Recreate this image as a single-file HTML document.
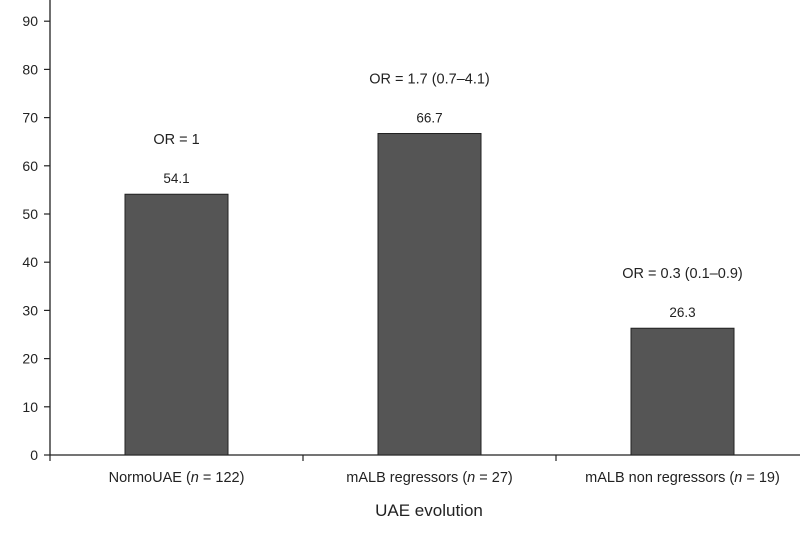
<!DOCTYPE html>
<html><head><meta charset="utf-8"><style>
body{margin:0;background:#fff;}
svg text{font-family:"Liberation Sans",sans-serif;fill:#222;}
</style></head><body>
<svg id="chart" width="800" height="533" viewBox="0 0 800 533" xmlns="http://www.w3.org/2000/svg"></svg>
<script>
const categories = ["NormoUAE", "mALB regressors", "mALB non regressors"];
const nLabels = ["122", "27", "19"];
const values = [54.1, 66.7, 26.3];
const orLabels = ["OR = 1", "OR = 1.7 (0.7\u20134.1)", "OR = 0.3 (0.1\u20130.9)"];
const yTicks = [0,10,20,30,40,50,60,70,80,90];

const svg = document.getElementById('chart');
const NS = 'http://www.w3.org/2000/svg';
const x0 = 50, catW = 253, y0 = 455, pxPer = 4.82, barW = 103;
const y = v => y0 - v * pxPer;
const cx = i => x0 + catW * i + catW / 2;
function mk(tag, attrs, txt){const e=document.createElementNS(NS,tag);for(const k in attrs)e.setAttribute(k,attrs[k]);if(txt!==undefined)e.textContent=txt;svg.appendChild(e);return e;}

const yAxis = mk('line',{x1:x0,y1:0,x2:x0,y2:y0,stroke:'#222','stroke-width':1.3});


const xAxis = mk('line',{x1:x0,y1:y0,x2:800,y2:y0,stroke:'#222','stroke-width':1.3});



yTicks.forEach(t=>{
  const tk = mk('line',{x1:x0-6,y1:y(t),x2:x0,y2:y(t),stroke:'#222','stroke-width':1.2});
  
  
  const lb = mk('text',{x:x0-12,y:y(t)+5,'text-anchor':'end','font-size':14},String(t));
  
  
});
for(let i=0;i<=categories.length;i++){
  const tk = mk('line',{x1:x0+catW*i,y1:y0,x2:x0+catW*i,y2:y0+6,stroke:'#222','stroke-width':1.2});
  
  
}
categories.forEach((c,i)=>{
  const v = values[i];
  const b = mk('rect',{x:cx(i)-barW/2,y:y(v),width:barW,height:y0-y(v),fill:'#555',stroke:'#222','stroke-width':1});
  
  
  const vl = mk('text',{x:cx(i),y:y(v)-11,'text-anchor':'middle','font-size':13.5},v.toFixed(1));
  
  
  const ol = mk('text',{x:cx(i),y:y(v)-50,'text-anchor':'middle','font-size':14.5},orLabels[i]);
  
  
  const cl = mk('text',{x:cx(i),y:482,'text-anchor':'middle','font-size':14.5});
  
  
  cl.innerHTML = c + '  (<tspan font-style="italic">n</tspan> = ' + nLabels[i] + ')';
  cl.setAttribute('xml:space','preserve');
});
const xt = mk('text',{x:429,y:516,'text-anchor':'middle','font-size':17},'UAE evolution');


</script>
</body></html>
